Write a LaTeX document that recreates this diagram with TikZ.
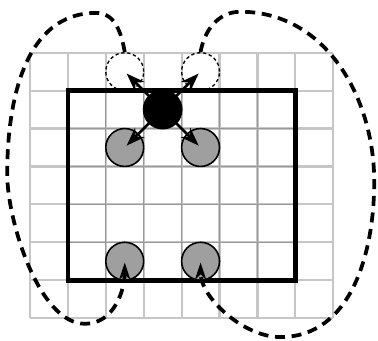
\documentclass[tikz,border=0pt]{standalone}
\usepackage{tikz}
\usetikzlibrary{arrows.meta,positioning}

\begin{document}
\begin{tikzpicture}[
    atom/.style={circle,draw,line width=1.2pt,fill=gray!75,minimum size=1cm,inner sep=0pt},
    ghost/.style={circle,draw,line width=1pt,dash pattern=on 2.5pt off 2pt,minimum size=1cm,inner sep=0pt},
    hop/.style={line width=2pt,-{Stealth[length=14pt,width=10pt]},shorten >=2pt},
    wrap/.style={line width=2.8pt,dash pattern=on 7.5pt off 5pt,-{Stealth[length=13pt,width=8.5pt]},shorten >=1pt}]
			\useasboundingbox (-0.79,-0.58) rectangle (9.18,8.39);
			% lattice
			\draw[gray!45,line width=1.6pt] (0,0) grid (8,7);
			\draw[gray!80,line width=0.8pt] (1,1) grid (7,6);
			\draw[line width=3.5pt] (1,1) rectangle (7,6);
			% images across the boundary
			\node[ghost] (gl) at (2.5,6.5) {};
			\node[ghost] (gr) at (4.5,6.5) {};
			% atoms
			\node[atom] (ml) at (2.5,4.5) {};
			\node[atom] (mr) at (4.5,4.5) {};
			\node[atom] (bl) at (2.5,1.5) {};
			\node[atom] (br) at (4.5,1.5) {};
			\foreach \n in {gl,gr,ml,mr}
				\draw[hop] (3.5,5.5) -- (\n.center);
			\node[circle,fill=black,minimum size=1.05cm,inner sep=0pt] (c) at (3.5,5.5) {};
			% periodic wrap
			\draw[wrap] (gl.north) to[out=100,in=0] (1.75,8.05) to[out=180,in=90] (-0.6,3.8)
				to[out=270,in=180,looseness=0.7] (1.45,-0.15) to[out=0,in=270] (bl.center);
			\draw[wrap] (gr.north) to[out=80,in=180] (5.55,8.08) to[out=0,in=90] (9.08,3.6)
				to[out=270,in=0] (6.6,-0.5) to[out=180,in=270,looseness=0.85] (br.center);
		\end{tikzpicture}
\end{document}
